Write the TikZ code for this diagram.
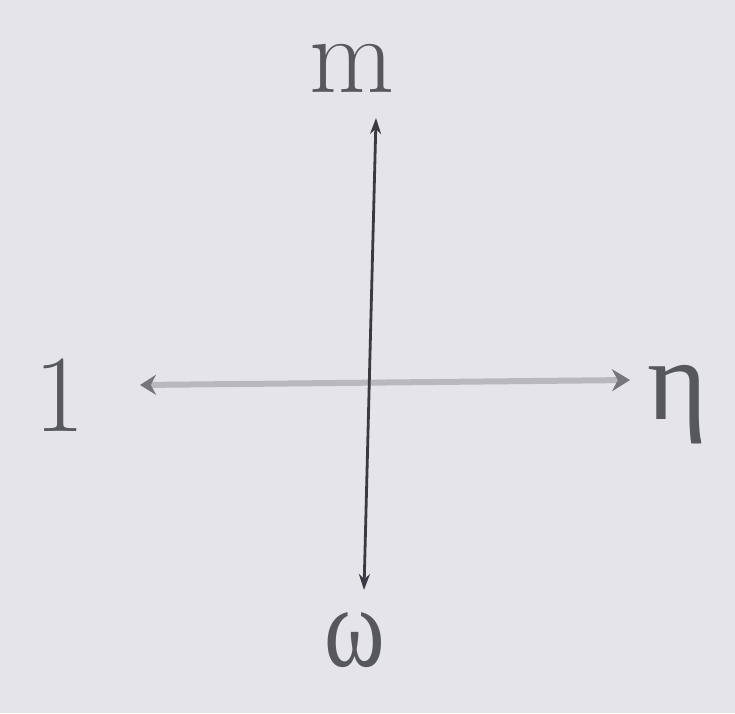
\documentclass[tikz,border=0pt]{standalone}
\usepackage{fontspec}
\newfontfamily\gk{Liberation Serif}
\usetikzlibrary{arrows.meta}
\definecolor{bg}{HTML}{E4E4EA}
\definecolor{ink}{HTML}{3A3A44}
\definecolor{pale}{HTML}{B8B8BE}
\tikzset{
  lbl/.style={text=ink!85, inner sep=0pt, font=\fontsize{110}{110}\selectfont},
  gklbl/.style={text=ink!85, inner sep=0pt, font=\gk\fontsize{115}{115}\selectfont},
  darkarrow/.style={draw=ink, line width=2.8pt, {Stealth[length=16pt,width=11pt]}-{Stealth[length=16pt,width=11pt]}},
  palearrow/.style={draw=pale, line width=6pt, {Stealth[length=16pt,width=20pt,color=ink!70]}-{Stealth[length=18pt,width=22pt,color=ink!70]}}
}
\begin{document}
\begin{tikzpicture}[x=1pt,y=-1pt]
\fill[bg] (0,0) rectangle (735,713);
\useasboundingbox (0,0) rectangle (735,713);
\node[lbl] (top) at (352,68) {m};
\node[lbl] (left) at (60,395) {1};
\node[gklbl] (right) at (678,405) {η};
\node[gklbl, xscale=0.8] (bot) at (355,640) {ω};
\coordinate (h1) at (140,385);
\coordinate (h2) at (630,380);
\coordinate (v1) at (376,118);
\coordinate (v2) at (364,590);
\draw[palearrow] (h1) -- (h2);
\draw[darkarrow] (v1) -- (v2);
\end{tikzpicture}
\end{document}
